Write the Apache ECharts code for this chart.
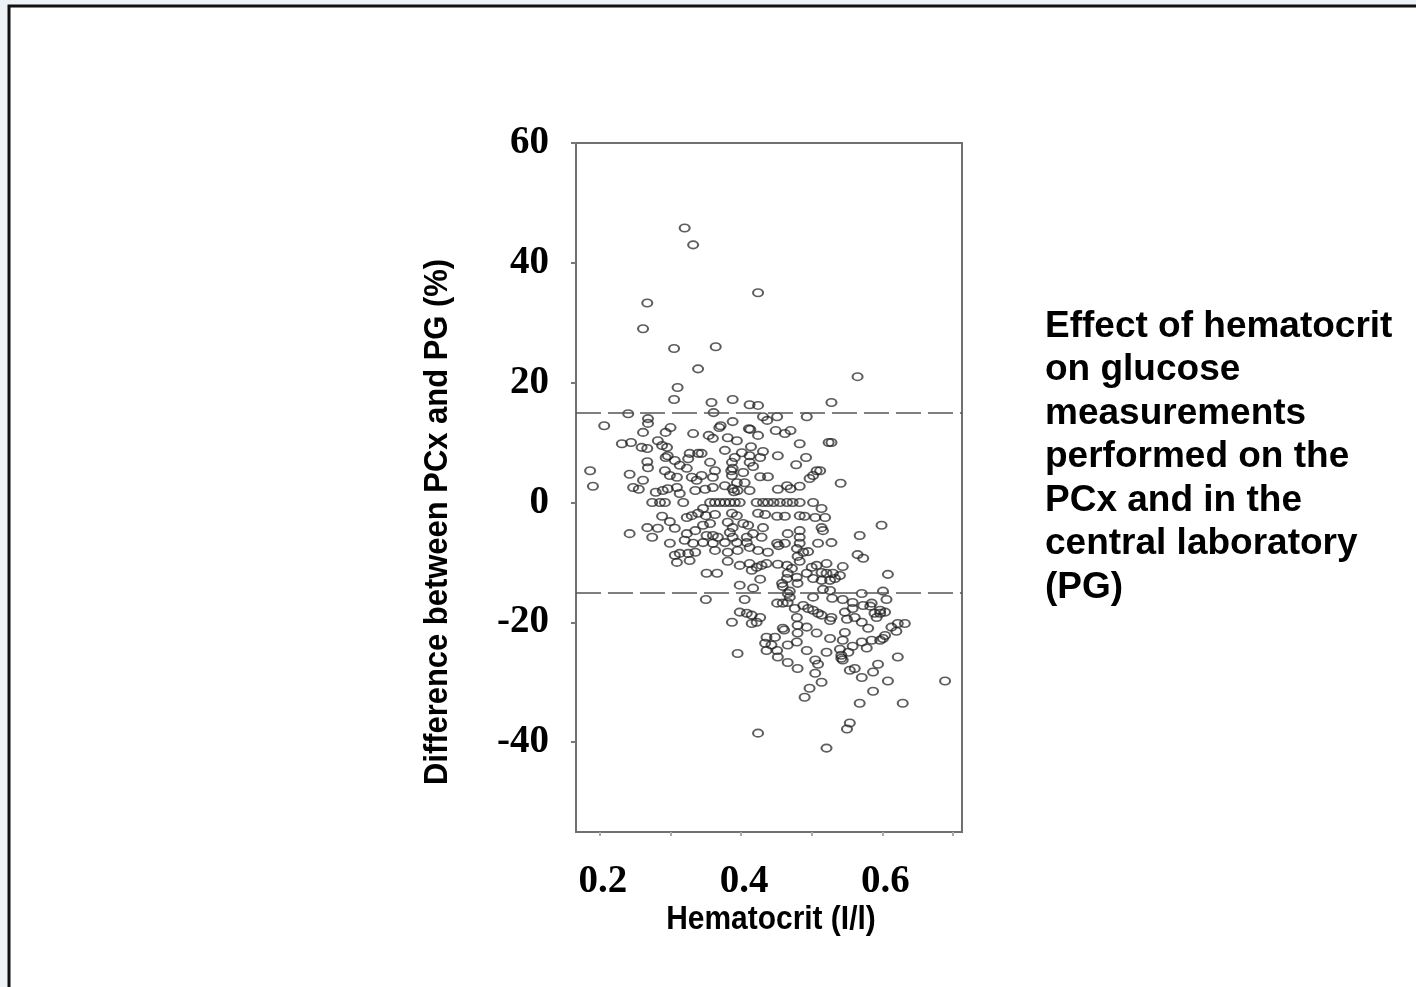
<!DOCTYPE html>
<html>
<head>
<meta charset="utf-8">
<script src="https://cdn.jsdelivr.net/npm/echarts@6/dist/echarts.min.js"></script>
<style>
  html, body { margin: 0; padding: 0; background: #eef3f7; }
  #chart { width: 1416px; height: 987px; }
</style>
</head>
<body>
<div id="chart"></div>
<script>
// hematocrit (l/l), difference PCx - PG (%)
var ptsHigh = [
  [0.320, 45.8], [0.332, 43.0], [0.267, 33.3], [0.261, 29.0], [0.305, 25.7],
  [0.364, 26.0], [0.339, 22.3], [0.310, 19.2], [0.424, 35.0], [0.565, 21.0]
];
var ptsLeft = [
  [0.305, 17.2], [0.240, 14.8], [0.268, 14.0], [0.268, 13.2], [0.206, 12.8],
  [0.261, 11.7], [0.293, 11.7], [0.300, 12.5], [0.332, 11.5], [0.231, 9.8],
  [0.244, 10.0], [0.282, 10.3], [0.288, 9.5], [0.259, 9.2], [0.267, 9.0],
  [0.295, 9.2], [0.296, 7.8], [0.327, 8.2], [0.339, 8.2], [0.267, 6.8],
  [0.268, 5.8], [0.293, 7.5], [0.306, 7.0], [0.313, 6.2], [0.325, 7.3],
  [0.186, 5.3], [0.242, 4.7], [0.261, 3.7], [0.292, 5.3], [0.299, 4.5],
  [0.309, 4.2], [0.323, 5.7], [0.330, 4.2], [0.337, 3.7], [0.190, 2.7],
  [0.247, 2.5], [0.255, 2.2], [0.279, 1.7], [0.289, 2.0], [0.296, 2.3],
  [0.309, 2.5], [0.313, 1.5], [0.335, 2.0], [0.274, 0], [0.285, 0],
  [0.292, 0], [0.318, 0], [0.288, -2.3], [0.299, -3.2], [0.323, -2.5],
  [0.330, -2.2], [0.339, -1.8], [0.242, -5.2], [0.267, -4.2], [0.282, -4.3],
  [0.306, -4.3], [0.274, -5.8], [0.323, -5.2], [0.335, -4.7], [0.299, -6.8],
  [0.320, -6.3], [0.332, -6.8], [0.306, -8.8], [0.313, -8.5], [0.325, -8.5],
  [0.335, -8.3], [0.309, -10.0], [0.327, -9.7]
];
var ptsMid = [
  [0.358, 16.7], [0.388, 17.2], [0.412, 16.3], [0.424, 16.2], [0.361, 15.0],
  [0.431, 14.3], [0.437, 13.7], [0.451, 14.3], [0.493, 14.3], [0.388, 13.5],
  [0.371, 12.8], [0.369, 12.5], [0.411, 12.3], [0.413, 12.2], [0.354, 11.2],
  [0.360, 10.7], [0.381, 10.8], [0.394, 10.3], [0.424, 11.2], [0.449, 12.0],
  [0.462, 11.5], [0.470, 12.0], [0.483, 9.8], [0.414, 9.3], [0.377, 8.7],
  [0.401, 8.3], [0.431, 8.5], [0.344, 8.2], [0.391, 7.5], [0.412, 7.8],
  [0.427, 7.5], [0.452, 7.8], [0.492, 7.5], [0.356, 6.7], [0.387, 6.7],
  [0.412, 6.7], [0.417, 6.0], [0.478, 6.3], [0.388, 5.7], [0.386, 5.3],
  [0.363, 5.3], [0.403, 5.0], [0.507, 5.3], [0.502, 4.5], [0.344, 4.5],
  [0.360, 4.2], [0.387, 4.5], [0.427, 4.3], [0.438, 4.3], [0.497, 4.0],
  [0.394, 3.3], [0.405, 3.3], [0.349, 2.2], [0.360, 2.5], [0.377, 2.8],
  [0.388, 2.3], [0.390, 1.8], [0.395, 2.0], [0.412, 2.0], [0.452, 2.2],
  [0.465, 2.8], [0.470, 2.3], [0.483, 2.7],
  [0.356, 0], [0.363, 0], [0.370, 0], [0.377, 0], [0.384, 0], [0.391, 0],
  [0.398, 0], [0.422, 0], [0.431, 0], [0.438, 0], [0.446, 0], [0.455, 0],
  [0.465, 0], [0.473, 0], [0.483, 0], [0.502, 0],
  [0.346, -1.0], [0.350, -2.2], [0.363, -2.0], [0.387, -1.8], [0.394, -2.2],
  [0.424, -1.8], [0.434, -2.0], [0.451, -2.3], [0.462, -2.3], [0.483, -2.2],
  [0.490, -2.3], [0.505, -2.5], [0.346, -3.8], [0.356, -3.5], [0.381, -3.3],
  [0.388, -4.2], [0.403, -3.5], [0.410, -3.8], [0.431, -4.2], [0.483, -4.7],
  [0.351, -5.5], [0.360, -5.5], [0.367, -5.8], [0.384, -5.0], [0.388, -5.8],
  [0.408, -5.8], [0.417, -5.2], [0.429, -5.8], [0.466, -5.2], [0.483, -5.8],
  [0.346, -6.7], [0.360, -6.8], [0.377, -6.7], [0.394, -6.7], [0.408, -6.7],
  [0.451, -6.8], [0.453, -7.2], [0.462, -6.8], [0.483, -6.8], [0.509, -6.8],
  [0.363, -8.0], [0.381, -8.3], [0.395, -8.0], [0.412, -7.5], [0.424, -8.0],
  [0.438, -8.3], [0.479, -7.7], [0.488, -8.3], [0.495, -8.2], [0.480, -9.0]
];
var ptsRight = [
  [0.528, 16.7], [0.524, 10.0], [0.528, 10.0], [0.512, 5.3], [0.541, 3.2],
  [0.514, -1.0], [0.519, -2.5], [0.514, -4.2], [0.516, -4.7], [0.599, -3.8],
  [0.568, -5.5], [0.528, -6.7], [0.565, -8.7], [0.573, -9.3]
];
var ptsLowMid = [
  [0.381, -9.8], [0.398, -10.5], [0.412, -10.2], [0.422, -10.8], [0.429, -10.5],
  [0.436, -10.2], [0.452, -10.3], [0.465, -10.5], [0.472, -11.0], [0.483, -9.8],
  [0.500, -10.8], [0.507, -10.5], [0.351, -11.8], [0.366, -11.8], [0.415, -11.3],
  [0.466, -11.8], [0.465, -12.7], [0.479, -12.5], [0.493, -11.8], [0.502, -12.7],
  [0.427, -12.8], [0.398, -13.8], [0.417, -14.3], [0.458, -13.5], [0.459, -14.0],
  [0.480, -13.5], [0.466, -15.2], [0.469, -14.8], [0.350, -16.2], [0.405, -16.2],
  [0.469, -15.8], [0.466, -16.7], [0.451, -16.8], [0.459, -16.8], [0.502, -15.8],
  [0.488, -17.2], [0.495, -17.7], [0.502, -18.0], [0.509, -18.5], [0.398, -18.3],
  [0.408, -18.5], [0.415, -18.8], [0.427, -19.2], [0.422, -20.0], [0.415, -20.2],
  [0.387, -20.0], [0.476, -17.7], [0.479, -19.2], [0.480, -20.5], [0.493, -20.8],
  [0.459, -21.0], [0.461, -21.3], [0.480, -21.8], [0.507, -21.8], [0.436, -22.5],
  [0.448, -22.5], [0.434, -23.5], [0.443, -23.8], [0.436, -24.7], [0.451, -24.7],
  [0.452, -25.8], [0.479, -23.3], [0.466, -23.8], [0.493, -24.7], [0.395, -25.2],
  [0.505, -26.3], [0.509, -27.0], [0.466, -26.7], [0.480, -27.7], [0.505, -28.5],
  [0.497, -31.0], [0.490, -32.5], [0.424, -38.5]
];
var ptsLowRight = [
  [0.521, -10.2], [0.544, -10.7], [0.514, -11.7], [0.521, -11.8], [0.530, -11.8],
  [0.540, -12.2], [0.533, -12.7], [0.514, -13.0], [0.526, -13.0], [0.608, -12.0],
  [0.516, -14.5], [0.526, -14.7], [0.529, -16.0], [0.571, -15.2], [0.601, -14.8],
  [0.544, -16.2], [0.558, -16.7], [0.573, -17.2], [0.585, -16.8], [0.583, -17.3],
  [0.606, -16.2], [0.547, -18.3], [0.558, -17.7], [0.561, -19.2], [0.550, -19.5],
  [0.589, -18.5], [0.597, -18.5], [0.604, -18.3], [0.592, -19.2], [0.597, -18.0],
  [0.514, -18.8], [0.528, -19.2], [0.526, -19.7], [0.571, -20.0], [0.580, -21.0],
  [0.613, -20.8], [0.622, -20.2], [0.632, -20.2], [0.620, -21.5], [0.604, -22.2],
  [0.601, -22.7], [0.597, -23.0], [0.547, -21.7], [0.526, -22.7], [0.544, -23.0],
  [0.571, -23.3], [0.585, -23.0], [0.558, -24.0], [0.578, -24.3], [0.540, -24.5],
  [0.552, -25.0], [0.521, -25.0], [0.542, -25.5], [0.542, -26.0], [0.544, -26.3],
  [0.622, -25.8], [0.594, -27.0], [0.587, -28.3], [0.554, -28.0], [0.561, -27.7],
  [0.571, -29.2], [0.608, -29.8], [0.514, -30.0], [0.689, -29.8], [0.587, -31.5],
  [0.568, -33.5], [0.629, -33.5], [0.554, -36.8], [0.550, -37.8], [0.521, -41.0]
];

var xTickLabels = [0.2, 0.4, 0.6];
var yTickLabels = [-40, -20, 0, 20, 40, 60];
var limitLines = [15, -15];

var allPts = ptsHigh.concat(ptsLeft, ptsMid, ptsRight, ptsLowMid, ptsLowRight);

var titleFont = 'bold 34px "Liberation Sans", Arial, sans-serif';
var tickFont = '"Liberation Serif", "Times New Roman", serif';

var chart = echarts.init(document.getElementById('chart'));
chart.setOption({
  backgroundColor: '#eef3f7',
  animation: false,
  graphic: [
    {
      type: 'rect',
      z: -10,
      shape: { x: 9, y: 6, width: 1420, height: 990 },
      style: { fill: '#fff', stroke: '#111', lineWidth: 3 }
    },
    {
      // y axis title, squeezed a bit like the original narrow face
      type: 'text',
      x: 438,
      y: 522,
      rotation: Math.PI / 2,
      scaleX: 0.91,
      style: {
        text: 'Difference between PCx and PG (%)',
        font: titleFont,
        fill: '#000',
        align: 'center',
        verticalAlign: 'middle'
      }
    },
    {
      type: 'text',
      x: 771,
      y: 920,
      scaleX: 0.88,
      style: {
        text: 'Hematocrit (I/l)',
        font: titleFont,
        fill: '#000',
        align: 'center',
        verticalAlign: 'middle'
      }
    },
    {
      type: 'text',
      left: 1045,
      top: 305,
      style: {
        text: 'Effect of hematocrit\non glucose\nmeasurements\nperformed on the\nPCx and in the\ncentral laboratory\n(PG)',
        font: 'bold 37px "Liberation Sans", Arial, sans-serif',
        lineHeight: 43.5,
        fill: '#000'
      }
    }
  ],
  grid: {
    left: 576,
    top: 143,
    right: 454,
    bottom: 155,
    show: true,
    backgroundColor: '#fff',
    borderColor: '#707070',
    borderWidth: 2
  },
  xAxis: {
    type: 'value',
    min: 0.166,
    max: 0.713,
    splitNumber: 5,
    axisLine: { show: false, onZero: false },
    axisTick: { show: true, length: 4, lineStyle: { color: '#aaa', width: 2 } },
    splitLine: { show: false },
    axisLabel: {
      margin: 30,
      padding: [0, 0, 0, 6],
      showMinLabel: false,
      showMaxLabel: false,
      color: '#000',
      fontFamily: tickFont,
      fontWeight: 'bold',
      fontSize: 39,
      formatter: function (v) {
        var r = Math.round(v * 10) / 10;
        if (Math.abs(v - r) < 1e-6 && xTickLabels.indexOf(r) !== -1) {
          return r.toFixed(1);
        }
        return '';
      }
    }
  },
  yAxis: {
    type: 'value',
    min: -55,
    max: 60,
    axisLine: { show: false, onZero: false },
    axisTick: { show: true, length: 5, lineStyle: { color: '#777', width: 2 } },
    splitLine: { show: false },
    axisLabel: {
      margin: 27,
      showMinLabel: false,
      color: '#000',
      fontFamily: tickFont,
      fontWeight: 'bold',
      fontSize: 39,
      formatter: function (v) {
        return yTickLabels.indexOf(v) !== -1 ? String(v) : '';
      }
    }
  },
  series: [
    {
      type: 'scatter',
      data: allPts,
      symbol: 'circle',
      symbolSize: [10, 7.5],
      itemStyle: {
        color: 'rgba(255,255,255,0)',
        borderColor: 'rgba(30,30,30,0.9)',
        borderWidth: 1.8
      },
      markLine: {
        silent: true,
        symbol: 'none',
        label: { show: false },
        lineStyle: { color: '#555', width: 1.5, type: [25, 7] },
        data: limitLines.map(function (v) { return { yAxis: v }; })
      }
    }
  ]
});
</script>
</body>
</html>
